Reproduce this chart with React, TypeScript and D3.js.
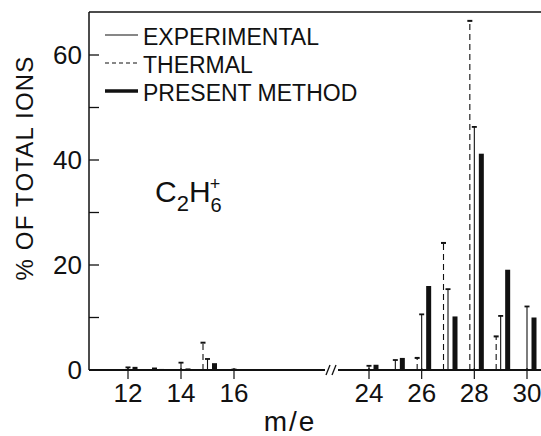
import React from "react";
import * as d3 from "d3";

// m/e values and % of total ions
const masses = [12, 13, 14, 15, 16, 24, 25, 26, 27, 28, 29, 30];
const experimental = [0.5, 0.3, 1.4, 2.1, 0.1, 0.8, 1.9, 10.6, 15.4, 46.3, 10.3, 12.1];
const thermal = [0, 0, 0, 5.2, 0, 0, 0, 2.3, 24.2, 66.5, 6.4, 0];
const present = [0.6, 0.2, 0.3, 1.3, 0, 1.0, 2.3, 16, 10.2, 41.2, 19.1, 10];

const xTicks = [12, 14, 16, 24, 26, 28, 30];
const yTicks = [0, 20, 40, 60];
const yMinor = [10, 30, 50];
const legendLabels = ["EXPERIMENTAL", "THERMAL", "PRESENT METHOD"];

const W = 541;
const H = 436;
const font = "'Liberation Sans', Arial, sans-serif";
const ink = "#111";

function drawChart(svgEl: SVGSVGElement) {
  const svg = d3.select(svgEl);
  svg.selectAll("*").remove();

  // broken axis: 16..24 is squeezed together
  const x = d3.scaleLinear().domain([12, 16, 24, 30]).range([128, 234, 369, 527]);
  const y = d3.scaleLinear().domain([0, 60]).range([370, 55]);

  const left = 89;
  const top = 12;
  const base = y(0);

  const g = svg.append("g");

  // frame
  g.append("line").attr("x1", left).attr("x2", left).attr("y1", top).attr("y2", base)
    .attr("stroke", ink).attr("stroke-width", 1.5);
  g.append("line").attr("x1", left).attr("x2", W).attr("y1", top).attr("y2", top)
    .attr("stroke", ink).attr("stroke-width", 1.5);
  // baseline with break
  g.append("line").attr("x1", left).attr("x2", 325).attr("y1", base).attr("y2", base)
    .attr("stroke", ink).attr("stroke-width", 2);
  g.append("line").attr("x1", 338).attr("x2", W).attr("y1", base).attr("y2", base)
    .attr("stroke", ink).attr("stroke-width", 2);
  [328, 334].forEach(bx => {
    g.append("line").attr("x1", bx - 2).attr("x2", bx + 2).attr("y1", base + 5).attr("y2", base - 5)
      .attr("stroke", ink).attr("stroke-width", 1.3);
  });

  // y ticks (inside)
  yTicks.concat(yMinor).forEach(v => {
    g.append("line").attr("x1", left).attr("x2", left + 10).attr("y1", y(v)).attr("y2", y(v))
      .attr("stroke", ink).attr("stroke-width", 1.3);
  });
  g.selectAll(".ylab").data(yTicks).enter().append("text")
    .attr("x", 82).attr("y", d => y(d) + 9)
    .attr("text-anchor", "end").attr("font-family", font).attr("font-size", 26)
    .attr("fill", ink).text(d => d);

  // x ticks (outside)
  xTicks.forEach(v => {
    g.append("line").attr("x1", x(v)).attr("x2", x(v)).attr("y1", base - 2).attr("y2", base + 9)
      .attr("stroke", ink).attr("stroke-width", 1.2);
  });
  g.selectAll(".xlab").data(xTicks).enter().append("text")
    .attr("x", d => x(d)).attr("y", 402)
    .attr("text-anchor", "middle").attr("font-family", font).attr("font-size", 26)
    .attr("fill", ink).text(d => d);

  // axis titles
  g.append("text").attr("x", 290).attr("y", 431).attr("text-anchor", "middle")
    .attr("font-family", font).attr("font-size", 28).attr("letter-spacing", 2)
    .attr("fill", ink).text("m/e");
  g.append("text").attr("transform", "translate(33,168) rotate(-90)")
    .attr("text-anchor", "middle").attr("font-family", font).attr("font-size", 24)
    .attr("letter-spacing", 1.2).attr("fill", ink).text("% OF TOTAL IONS");

  // species label
  const lab = g.append("text").attr("x", 155).attr("y", 202)
    .attr("font-family", font).attr("font-size", 30).attr("fill", ink);
  lab.append("tspan").text("C");
  lab.append("tspan").attr("font-size", 22).attr("dy", 9).text("2");
  lab.append("tspan").attr("dy", -9).text("H");
  lab.append("tspan").attr("font-size", 20).attr("dy", 10).text("6");
  lab.append("tspan").attr("font-size", 18).attr("dx", -12).attr("dy", -22).text("+");

  const rows = masses.map((m, i) => ({ m, e: experimental[i], t: thermal[i], p: present[i] }));

  // thermal: dashed lines
  const th = rows.filter(r => r.t > 0);
  g.selectAll(".th").data(th).enter().append("line")
    .attr("x1", d => x(d.m) - 4.5).attr("x2", d => x(d.m) - 4.5)
    .attr("y1", base).attr("y2", d => y(d.t))
    .attr("stroke", ink).attr("stroke-width", 1.1).attr("stroke-dasharray", "6,4");
  g.selectAll(".thc").data(th).enter().append("line")
    .attr("x1", d => x(d.m) - 7).attr("x2", d => x(d.m) - 2)
    .attr("y1", d => y(d.t)).attr("y2", d => y(d.t))
    .attr("stroke", ink).attr("stroke-width", 2);

  // experimental: thin lines with caps
  const ex = rows.filter(r => r.e > 0);
  g.selectAll(".ex").data(ex).enter().append("line")
    .attr("x1", d => x(d.m)).attr("x2", d => x(d.m))
    .attr("y1", base).attr("y2", d => y(d.e))
    .attr("stroke", ink).attr("stroke-width", 1.1);
  g.selectAll(".exc").data(ex).enter().append("line")
    .attr("x1", d => x(d.m) - 2.5).attr("x2", d => x(d.m) + 2.5)
    .attr("y1", d => y(d.e)).attr("y2", d => y(d.e))
    .attr("stroke", ink).attr("stroke-width", 1.8);

  // present method: thick bars
  g.selectAll(".pr").data(rows.filter(r => r.p > 0)).enter().append("rect")
    .attr("x", d => x(d.m) + 4.5).attr("width", 5)
    .attr("y", d => y(d.p)).attr("height", d => base - y(d.p))
    .attr("fill", ink);

  // legend
  const ly = [35, 63, 91];
  legendLabels.forEach((txt, i) => {
    const ln = g.append("line").attr("x1", 105).attr("x2", 138).attr("y1", ly[i]).attr("y2", ly[i])
      .attr("stroke", ink).attr("stroke-width", i === 2 ? 3.5 : 1.2);
    if (i === 1) ln.attr("stroke-dasharray", "4,3");
    g.append("text").attr("x", 143).attr("y", ly[i] + 10)
      .attr("font-family", font).attr("font-size", 23).attr("fill", ink).text(txt);
  });
}

export default function App() {
  const ref = React.useRef<SVGSVGElement>(null);
  React.useEffect(() => {
    if (ref.current) drawChart(ref.current);
  }, []);
  return (
    <svg ref={ref} width={W} height={H}
      style={{ position: "absolute", left: 0, top: 0, background: "#fff" }} />
  );
}
